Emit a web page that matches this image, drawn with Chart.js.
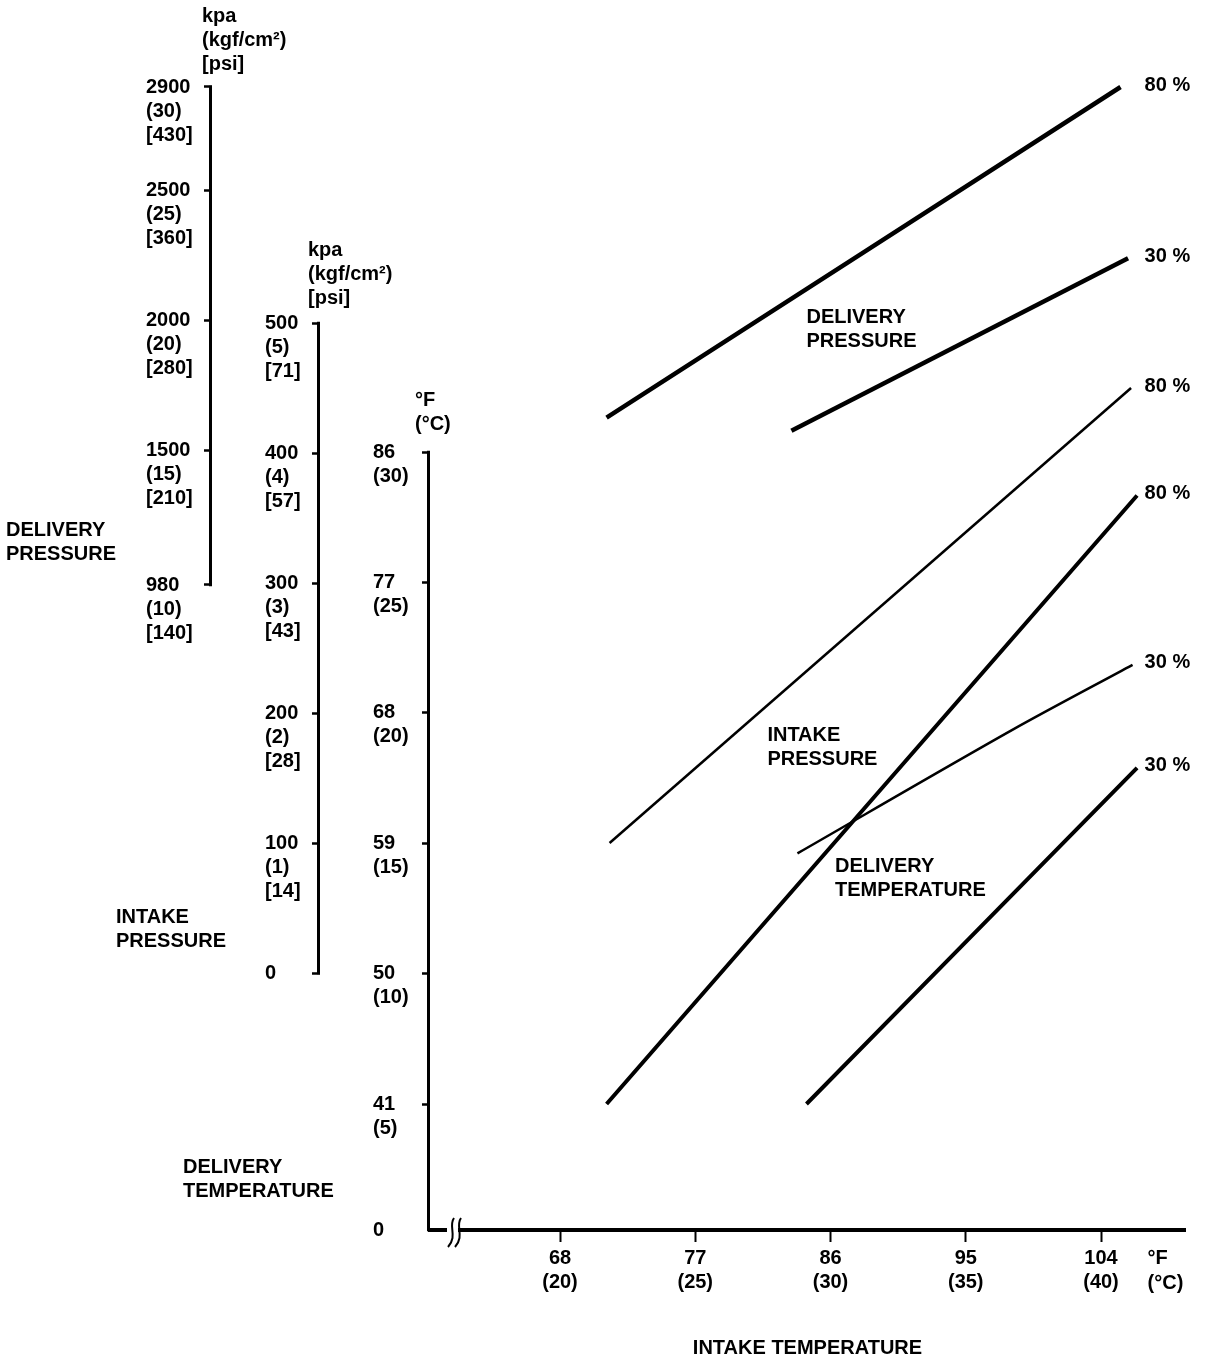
<!DOCTYPE html>
<html>
<head>
<meta charset="utf-8">
<title>Intake temperature vs delivery pressure / temperature</title>
<script src="https://cdn.jsdelivr.net/npm/chart.js@4.4.1/dist/chart.umd.min.js"></script>
<style>
    html, body { margin: 0; padding: 0; background: #fff; }
    #wrap { position: relative; width: 1216px; height: 1360px; }
</style>
</head>
<body>
<div id="wrap"><canvas id="chart"></canvas></div>
<script>
// ============================================================
// Data
// ============================================================

// Intake temperature (x axis), °F with °C below
const xTicksF = [68, 77, 86, 95, 104];
const xTicksC = [20, 25, 30, 35, 40];

// Delivery pressure axis: kPa (kgf/cm2) [psi]
const dpTicksKpa = [980, 1500, 2000, 2500, 2900];
const dpTicksKgf = [10, 15, 20, 25, 30];
const dpTicksPsi = [140, 210, 280, 360, 430];

// Intake pressure axis: kPa (kgf/cm2) [psi]
const ipTicksKpa = [0, 100, 200, 300, 400, 500];
const ipTicksKgf = [0, 1, 2, 3, 4, 5];
const ipTicksPsi = [0, 14, 28, 43, 57, 71];

// Delivery temperature axis: °F (°C); the origin is labelled 0
const dtTicksF = [41, 50, 59, 68, 77, 86];
const dtTicksC = [5, 10, 15, 20, 25, 30];

// Curves (x = intake temperature °F)
const dp80X = [71.1, 105.3];
const dp80Y = [1625, 2900];
const dp30X = [83.4, 105.8];
const dp30Y = [1575, 2240];

const ip80X = [71.3, 106.0];
const ip80Y = [100, 450];
const ip30X = [83.8, 98.1, 106.1];
const ip30Y = [92, 187, 237];

const dt80X = [71.1, 106.4];
const dt80Y = [41, 83];
const dt30X = [84.4, 106.4];
const dt30Y = [41, 64.2];

const curveLabels = ['80 %', '30 %', '80 %', '30 %', '80 %', '30 %'];

// ============================================================
// Axis calibration: every scale lines up on the same plot box
// ============================================================
const PLOT = { left: 430, top: 80, right: 1185, bottom: 1230 };

// value v1 sits at pixel p1, v2 at p2 -> min/max of the scale
function hSpan(v1, p1, v2, p2) {
    const k = (p2 - p1) / (v2 - v1);
    return { min: v1 - (p1 - PLOT.left) / k, max: v1 + (PLOT.right - p1) / k };
}
function vSpan(v1, p1, v2, p2) {
    const k = (p1 - p2) / (v2 - v1);
    return { min: v1 - (PLOT.bottom - p1) / k, max: v1 + (p1 - PLOT.top) / k };
}

const xRange = hSpan(68, 560, 104, 1101);
const dpRange = vSpan(980, 585, 2900, 87);
const ipRange = vSpan(0, 973, 500, 323);
const dtRange = vSpan(41, 1104, 86, 452);

const FONT = '"Liberation Sans", Arial, Helvetica, sans-serif';
Chart.defaults.font = { family: FONT, size: 20, weight: 'bold', lineHeight: 1.2 };
Chart.defaults.color = '#000';

// fixed box width for a left axis, no extra padding
function fixWidth(w) {
    return s => { s.width = w; s.paddingTop = 0; s.paddingBottom = 0; };
}

// Shared left axis look: ticks on the right, labels left-aligned
function leftAxis(range, weight, width, extra) {
    return {
        type: 'linear',
        position: 'left',
        weight,
        bounds: 'data',
        min: range.min,
        max: range.max,
        afterFit: fixWidth(width),
        border: { display: false },
        grid: {
            display: true,
            drawOnChartArea: false,
            drawTicks: true,
            tickLength: 8,
            tickWidth: 2.5,
            tickColor: '#000',
        },
        ticks: {
            autoSkip: false,
            crossAlign: 'far',
            padding: 4,
            color: '#000',
        },
        ...extra,
    };
}

function spacer(weight, width) {
    return {
        type: 'linear',
        position: 'left',
        weight,
        display: true,
        afterFit: fixWidth(width),
        border: { display: false },
        grid: { display: false },
        ticks: { display: false },
    };
}

function pts(xs, ys) {
    return xs.map((x, i) => ({ x, y: ys[i] }));
}

function curve(label, axis, xs, ys, width) {
    return {
        label,
        yAxisID: axis,
        data: pts(xs, ys),
        showLine: true,
        borderColor: '#000',
        backgroundColor: '#000',
        borderWidth: width,
        pointRadius: 0,
        tension: 0.3,
        borderCapStyle: 'butt',
    };
}

// ============================================================
// Extra drawing: axis spines, unit headers, names, break mark
// ============================================================
const nomogramDecor = {
    id: 'nomogramDecor',
    afterDraw(chart) {
        const { ctx, chartArea, scales } = chart;
        const xs = scales.x, dp = scales.yDP, ip = scales.yIP, dt = scales.yDT;
        ctx.save();

        // axis spines, from the lowest to the highest tick
        ctx.strokeStyle = '#000';
        ctx.lineWidth = 3;
        [dp, ip, dt].forEach(s => {
            const vals = s.ticks.map(t => t.value);
            const top = s.getPixelForValue(Math.max(...vals));
            const bot = s.getPixelForValue(Math.min(...vals));
            const x = s.right - 1.5;
            ctx.beginPath();
            ctx.moveTo(x, top - 1.2);
            ctx.lineTo(x, bot + 1.2);
            ctx.stroke();
        });

        ctx.fillStyle = '#000';
        ctx.font = 'bold 20px ' + FONT;
        ctx.textBaseline = 'middle';
        ctx.textAlign = 'left';
        const block = (arr, x, y, lh = 24) => arr.forEach((t, i) => ctx.fillText(t, x, y + i * lh));

        // unit headers above each scale
        block(['kpa', '(kgf/cm\u00b2)', '[psi]'], dp.right - 10, dp.getPixelForValue(2900) - 71);
        block(['kpa', '(kgf/cm\u00b2)', '[psi]'], ip.right - 12, ip.getPixelForValue(500) - 73);
        block(['\u00b0F', '(\u00b0C)'], dt.right - 15, dt.getPixelForValue(86) - 52);

        // scale names on the left
        block(['DELIVERY', 'PRESSURE'], dp.left - 140, dp.getPixelForValue(1192));
        block(['INTAKE', 'PRESSURE'], ip.left - 149, ip.getPixelForValue(43));
        block(['DELIVERY', 'TEMPERATURE'], dt.left - 190, dt.getPixelForValue(36.6));

        // curve group names inside the plot
        block(['DELIVERY', 'PRESSURE'], xs.getPixelForValue(84.4), dp.getPixelForValue(2010));
        block(['INTAKE', 'PRESSURE'], xs.getPixelForValue(81.8), ip.getPixelForValue(183));
        block(['DELIVERY', 'TEMPERATURE'], xs.getPixelForValue(86.3), dt.getPixelForValue(57.4));

        // percent labels at the end of each curve
        const labelX = xs.getPixelForValue(106.9);
        chart.data.datasets.forEach((ds, i) => {
            const last = chart.getDatasetMeta(i).data.at(-1);
            ctx.fillText(ds.label, labelX, last.y - 2);
        });

        // unit at the end of the x axis
        block(['\u00b0F', '(\u00b0C)'], xs.getPixelForValue(107.1), chartArea.bottom + 28, 25);

        // axis break mark
        const bx = chartArea.left + 20;
        const by = chartArea.bottom;
        ctx.fillStyle = '#fff';
        ctx.fillRect(bx - 3, by - 4, 11, 8);
        ctx.lineWidth = 2;
        [0, 7].forEach(dx => {
            ctx.beginPath();
            ctx.moveTo(bx + 4 + dx, by - 12);
            ctx.bezierCurveTo(bx - 2 + dx, by - 4, bx + 8 + dx, by + 6, bx - 2 + dx, by + 17);
            ctx.stroke();
        });

        ctx.restore();
    }
};

new Chart(document.getElementById('chart'), {
    type: 'scatter',
    data: {
        datasets: [
            curve(curveLabels[0], 'yDP', dp80X, dp80Y, 4.5),
            curve(curveLabels[1], 'yDP', dp30X, dp30Y, 4.5),
            curve(curveLabels[2], 'yIP', ip80X, ip80Y, 2.5),
            curve(curveLabels[3], 'yIP', ip30X, ip30Y, 2.5),
            curve(curveLabels[4], 'yDT', dt80X, dt80Y, 4),
            curve(curveLabels[5], 'yDT', dt30X, dt30Y, 4),
        ]
    },
    options: {
        responsive: true,
        maintainAspectRatio: false,
        animation: false,
        layout: { padding: { left: 146, top: PLOT.top, right: 1216 - PLOT.right, bottom: 0 } },
        plugins: {
            legend: { display: false },
            tooltip: { enabled: false },
        },
        scales: {
            x: {
                type: 'linear',
                position: 'bottom',
                bounds: 'data',
                min: xRange.min,
                max: xRange.max,
                afterBuildTicks: s => { s.ticks = xTicksF.map(v => ({ value: v })); },
                afterFit: s => { s.height = 1360 - PLOT.bottom; s.paddingLeft = 0; s.paddingRight = 0; },
                border: { display: true, color: '#000', width: 4 },
                grid: {
                    display: true,
                    drawOnChartArea: false,
                    drawTicks: true,
                    tickLength: 12,
                    tickWidth: 2,
                    tickColor: '#000',
                },
                ticks: {
                    autoSkip: false,
                    maxRotation: 0,
                    padding: 4,
                    color: '#000',
                    callback: (v, i) => [String(v), `(${xTicksC[i]})`],
                },
                title: {
                    display: true,
                    text: 'INTAKE TEMPERATURE',
                    color: '#000',
                    padding: { top: 0, bottom: 0 },
                },
            },
            yDP: leftAxis(dpRange, 5, 66, {
                afterBuildTicks: s => { s.ticks = dpTicksKpa.map(v => ({ value: v })); },
                ticks: {
                    autoSkip: false, crossAlign: 'far', labelOffset: 24, color: '#000',
                    callback: (v, i) => [String(v), `(${dpTicksKgf[i]})`, `[${dpTicksPsi[i]}]`],
                },
            }),
            yGap1: spacer(4, 53),
            yIP: leftAxis(ipRange, 3, 55, {
                afterBuildTicks: s => { s.ticks = ipTicksKpa.map(v => ({ value: v })); },
                ticks: {
                    autoSkip: false, crossAlign: 'far', labelOffset: 24, color: '#000',
                    callback: (v, i) => i === 0 ? ['0', '', ''] :
                        [String(v), `(${ipTicksKgf[i]})`, `[${ipTicksPsi[i]}]`],
                },
            }),
            yGap2: spacer(2, 53),
            yDT: leftAxis(dtRange, 1, 57, {
                afterBuildTicks: s => {
                    s.ticks = [{ value: s.min }, ...dtTicksF.map(v => ({ value: v }))];
                },
                grid: {
                    display: true,
                    drawOnChartArea: false,
                    drawTicks: true,
                    tickLength: 8,
                    tickWidth: 2.5,
                    tickColor: c => c.index === 0 ? 'rgba(0,0,0,0)' : '#000',
                },
                ticks: {
                    autoSkip: false, crossAlign: 'far', labelOffset: 12, color: '#000',
                    callback: (v, i) => i === 0 ? ['0', ''] : [String(v), `(${dtTicksC[i - 1]})`],
                },
            }),
        }
    },
    plugins: [nomogramDecor]
});
</script>
</body>
</html>
